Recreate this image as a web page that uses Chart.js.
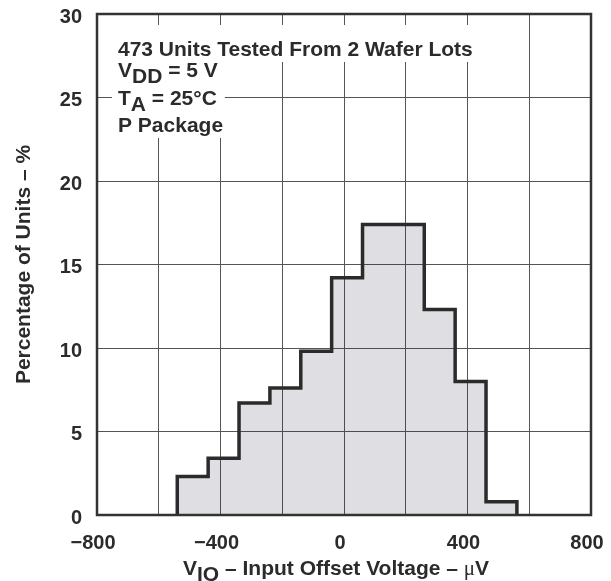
<!DOCTYPE html>
<html>
<head>
<meta charset="utf-8">
<script src="https://cdn.jsdelivr.net/npm/chart.js"></script>
<style>
  html, body { margin: 0; padding: 0; background: #fff; }
  #wrap { width: 611px; height: 581px; position: relative; }
</style>
</head>
<body>
<div id="wrap"><canvas id="chart"></canvas></div>
<script>
// histogram: bin edges (µV) and share of units in each bin (%)
const binEdges = [-540, -440, -340, -240, -140, -40, 60, 160, 260, 360, 460, 560];
const percentages = [2.3, 3.4, 6.7, 7.6, 9.8, 14.2, 17.4, 17.4, 12.3, 8.0, 0.8];
const xTickLabels = [-800, -400, 0, 400, 800];
const yTickLabels = [0, 5, 10, 15, 20, 25, 30];

// note lines, split in segments so the subscripts can be dropped
const noteLines = [
  [{ t: '473 Units Tested From 2 Wafer Lots' }],
  [{ t: 'V' }, { t: 'DD', sub: true }, { t: ' = 5 V' }],
  [{ t: 'T' }, { t: 'A', sub: true }, { t: ' = 25°C' }],
  [{ t: 'P Package' }]
];
const xTitle = [{ t: 'V' }, { t: 'IO', sub: true }, { t: ' – Input Offset Voltage – ' }, { t: 'μ', serif: true }, { t: 'V' }];
const yTitle = 'Percentage of Units – %';

const INK = '#2b2b2b';
const FONT = '"Liberation Sans", Arial, Helvetica, sans-serif';

// step outline: start at 0, one point per bin, close back to 0
const pts = [{ x: binEdges[0], y: 0 }];
percentages.forEach((p, i) => pts.push({ x: binEdges[i], y: p }));
pts.push({ x: binEdges[binEdges.length - 1], y: percentages[percentages.length - 1] });
pts.push({ x: binEdges[binEdges.length - 1], y: 0 });

function fmt(v){ return v < 0 ? '−' + Math.abs(v) : String(v); }

function segFont(s){
  return s.serif ? '21px "Liberation Serif", "Times New Roman", serif' : 'bold 21px ' + FONT;
}

function drawSegs(ctx, segs, x, y){
  segs.forEach(s => {
    ctx.font = segFont(s);
    ctx.fillText(s.t, x, s.sub ? y + 6 : y);
    x += ctx.measureText(s.t).width;
  });
}

function segsWidth(ctx, segs){
  let w = 0;
  segs.forEach(s => { ctx.font = segFont(s); w += ctx.measureText(s.t).width; });
  return w;
}

const decor = {
  id: 'decor',
  afterDraw(chart){
    const ctx = chart.ctx, a = chart.chartArea;
    ctx.save();
    ctx.fillStyle = INK;
    ctx.textBaseline = 'alphabetic';
    ctx.textAlign = 'left';

    // note block with white backing per line
    const x0 = a.left + 21;
    const baselines = [42, 63, 91, 118];
    const boxes = [[11, 48], [48, 74], [74, 100], [100, 124]];
    noteLines.forEach((segs, i) => {
      const w = segsWidth(ctx, segs);
      ctx.fillStyle = '#fff';
      ctx.fillRect(x0 - 6, a.top + boxes[i][0], w + 14, boxes[i][1] - boxes[i][0]);
    });
    ctx.fillStyle = INK;
    noteLines.forEach((segs, i) => drawSegs(ctx, segs, x0, a.top + baselines[i]));

    // frame
    ctx.strokeStyle = '#333';
    ctx.lineWidth = 2.5;
    ctx.strokeRect(a.left, a.top, a.right - a.left, a.bottom - a.top);

    // x axis title with subscript
    const tw = segsWidth(ctx, xTitle);
    const cx = (a.left + a.right) / 2 - 8;
    drawSegs(ctx, xTitle, cx - tw / 2, 575);
    ctx.restore();
  }
};

new Chart(document.getElementById('chart'), {
  type: 'line',
  data: {
    datasets: [{
      data: pts,
      parsing: false,
      stepped: true,
      fill: 'origin',
      borderColor: INK,
      borderWidth: 3.5,
      borderJoinStyle: 'miter',
      backgroundColor: 'rgba(30,30,55,0.14)',
      pointRadius: 0,
      tension: 0
    }]
  },
  options: {
    responsive: true,
    maintainAspectRatio: false,
    animation: false,
    layout: { padding: { top: 14, right: 20, left: 0, bottom: 0 } },
    plugins: { legend: { display: false }, tooltip: { enabled: false } },
    scales: {
      x: {
        type: 'linear',
        min: xTickLabels[0],
        max: xTickLabels[xTickLabels.length - 1],
        afterFit(s){ s.height = 66; s.paddingLeft = 0; s.paddingRight = 0; },
        border: { display: false },
        grid: { color: '#555', lineWidth: 1, drawTicks: false },
        ticks: {
          stepSize: 200,
          autoSkip: false,
          maxRotation: 0,
          padding: 16,
          labelOffset: -4,
          color: INK,
          font: { family: FONT, size: 20, weight: 'bold' },
          callback: v => xTickLabels.includes(v) ? fmt(v) : ''
        }
      },
      y: {
        min: yTickLabels[0],
        max: yTickLabels[yTickLabels.length - 1],
        afterFit(s){ s.width = 97; s.paddingTop = 0; s.paddingBottom = 0; },
        border: { display: false },
        grid: { color: '#555', lineWidth: 1, drawTicks: false },
        ticks: {
          stepSize: 5,
          padding: 15,
          labelOffset: 3,
          color: INK,
          font: { family: FONT, size: 20, weight: 'bold' },
          callback: v => yTickLabels.includes(v) ? String(v) : ''
        },
        title: {
          display: true,
          text: yTitle,
          color: INK,
          padding: { top: 12, bottom: 0 },
          font: { family: FONT, size: 21, weight: 'bold' }
        }
      }
    }
  },
  plugins: [decor]
});
</script>
</body>
</html>
